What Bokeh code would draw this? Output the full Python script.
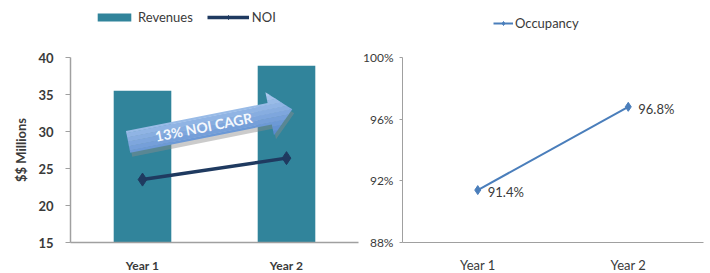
import math
from bokeh.plotting import figure
from bokeh.layouts import row, column
from bokeh.models import (FactorRange, Range1d, Legend, LegendItem, FixedTicker,
                          PrintfTickFormatter)
from bokeh.core.properties import value
from bokeh.embed import file_html
from bokeh.resources import INLINE

# ---------------- data ----------------
years = ["Year 1", "Year 2"]
revenues = [35.5, 38.9]
noi = [23.5, 26.4]
occupancy = [91.4, 96.8]
left_ticks = [15, 20, 25, 30, 35, 40]
right_ticks = [88, 92, 96, 100]
cagr_label = "13% NOI CAGR"

FONT = "Lato"
AXIS_GREY = "#a0a0a0"
TEXT = "#3a3a3a"
BAR = "#31849b"
NOI_C = "#1f3a60"
OCC_C = "#4a7ebb"

LEG_H = 34          # height of the legend strip above the charts
W1, W2 = 360, 350
H = 256             # height of the chart figures
MBT, MBB = 23, 48   # shared top / bottom borders (frames align in the row)

# ---------------- left chart ----------------
MBL, MBR = 70, 2
p1 = figure(x_range=FactorRange(*years), y_range=Range1d(15, 40),
            width=W1, height=H, output_backend="svg", toolbar_location=None,
            min_border_left=MBL, min_border_right=MBR, min_border_top=MBT,
            min_border_bottom=MBB)

p1.vbar(x=years, top=revenues, bottom=15, width=0.4, fill_color=BAR, line_color=None)

# block arrow annotation (geometry in pixels, converted to data units)
frame_w = W1 - MBL - MBR
frame_h = H - MBT - MBB
sx = frame_w / 2.0
sy = frame_h / 25.0
tail = (0.40, 28.6)
tip = (1.54, 33.0)
tx, ty = tail[0] * sx, tail[1] * sy
hx, hy = tip[0] * sx, tip[1] * sy
ang = math.atan2(hy - ty, hx - tx)
L = math.hypot(hx - tx, hy - ty)
ux, uy = math.cos(ang), math.sin(ang)
nx, ny = -uy, ux
bh, hh, hl = 11.0, 22.0, 23.0
shape = [(0, -bh), (L - hl, -bh), (L - hl, -hh), (L, 0), (L - hl, hh), (L - hl, bh), (0, bh)]


def clip_half(pts, keep, t0):
    out = []
    n = len(pts)
    for i in range(n):
        cur, prv = pts[i], pts[i - 1]
        ci, pi = keep(cur), keep(prv)
        if ci != pi:
            r = (t0 - prv[1]) / (cur[1] - prv[1])
            out.append((prv[0] + r * (cur[0] - prv[0]), t0))
        if ci:
            out.append(cur)
    return out


def clip(poly, a, b):
    pts = clip_half(poly, lambda p: p[1] >= a, a)
    if not pts:
        return []
    return clip_half(pts, lambda p: p[1] <= b, b)


def to_data(pts, dx=0.0, dy=0.0):
    xs = [(tx + s * ux + t * nx + dx) / sx for s, t in pts]
    ys = [(ty + s * uy + t * ny + dy) / sy for s, t in pts]
    return xs, ys


# shadow
shx, shy = to_data(shape, 2.0, -4.0)
p1.patch(shx, shy, fill_color="#8c8c8c", fill_alpha=0.45, line_color=None)

# gradient bands (light at top, darker at bottom)
n_bands = 10
c_top = (176, 204, 240)
c_bot = (86, 136, 206)
for i in range(n_bands):
    a = -hh + 2 * hh * i / n_bands
    b = -hh + 2 * hh * (i + 1) / n_bands + 0.3
    piece = clip(shape, a, b)
    if len(piece) < 3:
        continue
    f = (i + 0.5) / n_bands
    col = tuple(int(c_bot[k] + (c_top[k] - c_bot[k]) * f) for k in range(3))
    xs, ys = to_data(piece)
    p1.patch(xs, ys, fill_color="#%02x%02x%02x" % col, line_color=None)

s_txt = 0.46 * L
p1.text(x=[(tx + s_txt * ux) / sx], y=[(ty + s_txt * uy) / sy], text=[cagr_label],
        angle=ang, text_align="center", text_baseline="middle",
        text_font=value(FONT), text_font_size="14px", text_font_style="bold",
        text_color="#f4f8fd")

p1.line(years, noi, line_color=NOI_C, line_width=3.5)
p1.scatter(years, noi, marker="diamond", size=13, fill_color=NOI_C, line_color=NOI_C)

# ---------------- right chart ----------------
MBL2, MBR2 = 40, 7
p2 = figure(x_range=FactorRange(*years), y_range=Range1d(88, 100),
            width=W2, height=H, output_backend="svg", toolbar_location=None,
            min_border_left=MBL2, min_border_right=MBR2, min_border_top=MBT,
            min_border_bottom=MBB)

p2.line(years, occupancy, line_color=OCC_C, line_width=2)
p2.scatter(years, occupancy, marker="diamond", size=9, fill_color=OCC_C,
           line_color=OCC_C)
p2.text(x=years, y=occupancy, text=["%.1f%%" % v for v in occupancy],
        x_offset=10, y_offset=2, text_baseline="middle", text_align="left",
        text_font=value(FONT), text_font_size="13px", text_color=TEXT)


# ---------------- legend strips ----------------
# legend swatches come from renderers of the same series, kept outside the strip's view
def legend_fig(width):
    f = figure(width=width, height=LEG_H, x_range=FactorRange(*years),
               y_range=Range1d(1000, 1001), x_axis_type=None, y_axis_type=None,
               output_backend="svg", toolbar_location=None, min_border=0)
    f.outline_line_color = None
    f.xgrid.visible = False
    f.ygrid.visible = False
    return f


lf1 = legend_fig(W1)
lg_bar = lf1.vbar(x=years, top=revenues, bottom=15, width=0.0, fill_color=BAR,
                  line_color=None)
lg_noi_l = lf1.line(years, noi, line_color=NOI_C, line_width=3.5)
lg_noi_p = lf1.scatter(years, noi, marker="diamond", size=11, fill_color=NOI_C,
                       line_color=NOI_C)
leg1 = Legend(items=[LegendItem(label="Revenues", renderers=[lg_bar]),
                     LegendItem(label="NOI", renderers=[lg_noi_l, lg_noi_p])],
              orientation="horizontal", location=(93, LEG_H - 25),
              border_line_color=None, background_fill_alpha=0,
              padding=0, margin=0, spacing=14, glyph_width=42, glyph_height=10,
              label_height=14, label_standoff=3,
              label_text_font=FONT, label_text_font_size="13px",
              label_text_color=TEXT)
lf1.add_layout(leg1)

lf2 = legend_fig(W2)
lg_occ_l = lf2.line(years, occupancy, line_color=OCC_C, line_width=2)
lg_occ_p = lf2.scatter(years, occupancy, marker="diamond", size=8, fill_color=OCC_C,
                       line_color=OCC_C)
leg2 = Legend(items=[LegendItem(label="Occupancy", renderers=[lg_occ_l, lg_occ_p])],
              orientation="horizontal", location=(133, LEG_H - 31),
              border_line_color=None, background_fill_alpha=0,
              padding=0, margin=0, glyph_width=20, glyph_height=10,
              label_height=14, label_standoff=2,
              label_text_font=FONT, label_text_font_size="13px",
              label_text_color=TEXT)
lf2.add_layout(leg2)

# ---------------- styling ----------------
for p in (p1, p2):
    p.outline_line_color = None
    p.xgrid.visible = False
    p.ygrid.visible = False
    p.background_fill_color = "white"
    p.border_fill_color = "white"
    for ax in (p.xaxis[0], p.yaxis[0]):
        ax.axis_line_color = AXIS_GREY
        ax.axis_line_width = 1.5
        ax.major_tick_line_color = AXIS_GREY
        ax.minor_tick_line_color = None
        ax.major_label_text_font = FONT
        ax.major_label_text_color = TEXT
    p.xaxis.major_tick_line_color = None
    p.xaxis.major_tick_out = 0
    p.xaxis.major_tick_in = 0

p1.yaxis.ticker = FixedTicker(ticks=left_ticks)
p1.yaxis.major_tick_out = 5
p1.yaxis.major_tick_in = 0
p1.yaxis.major_label_standoff = 12
p1.yaxis.major_label_text_font_size = "13px"
p1.yaxis.major_label_text_font_style = "bold"
p1.yaxis.axis_label = "$$ Millions"
p1.yaxis.axis_label_text_font = FONT
p1.yaxis.axis_label_text_font_size = "13px"
p1.yaxis.axis_label_text_font_style = "bold"
p1.yaxis.axis_label_text_color = TEXT
p1.yaxis.axis_label_standoff = 6
p1.xaxis.major_label_standoff = 15
p1.xaxis.major_label_text_font_size = "12px"
p1.xaxis.major_label_text_font_style = "bold"

p2.yaxis.ticker = FixedTicker(ticks=right_ticks)
p2.yaxis.formatter = PrintfTickFormatter(format="%d%%")
p2.yaxis.major_tick_out = 3
p2.yaxis.major_tick_in = 0
p2.yaxis.major_label_standoff = 6
p2.yaxis.major_label_text_font_size = "12px"
p2.yaxis.axis_line_width = 1
p2.xaxis.axis_line_width = 1
p2.xaxis.major_label_standoff = 14
p2.xaxis.major_label_text_font_size = "13px"

layout = column(row(lf1, lf2), row(p1, p2))
open("out.html", "w").write(file_html(layout, INLINE))
